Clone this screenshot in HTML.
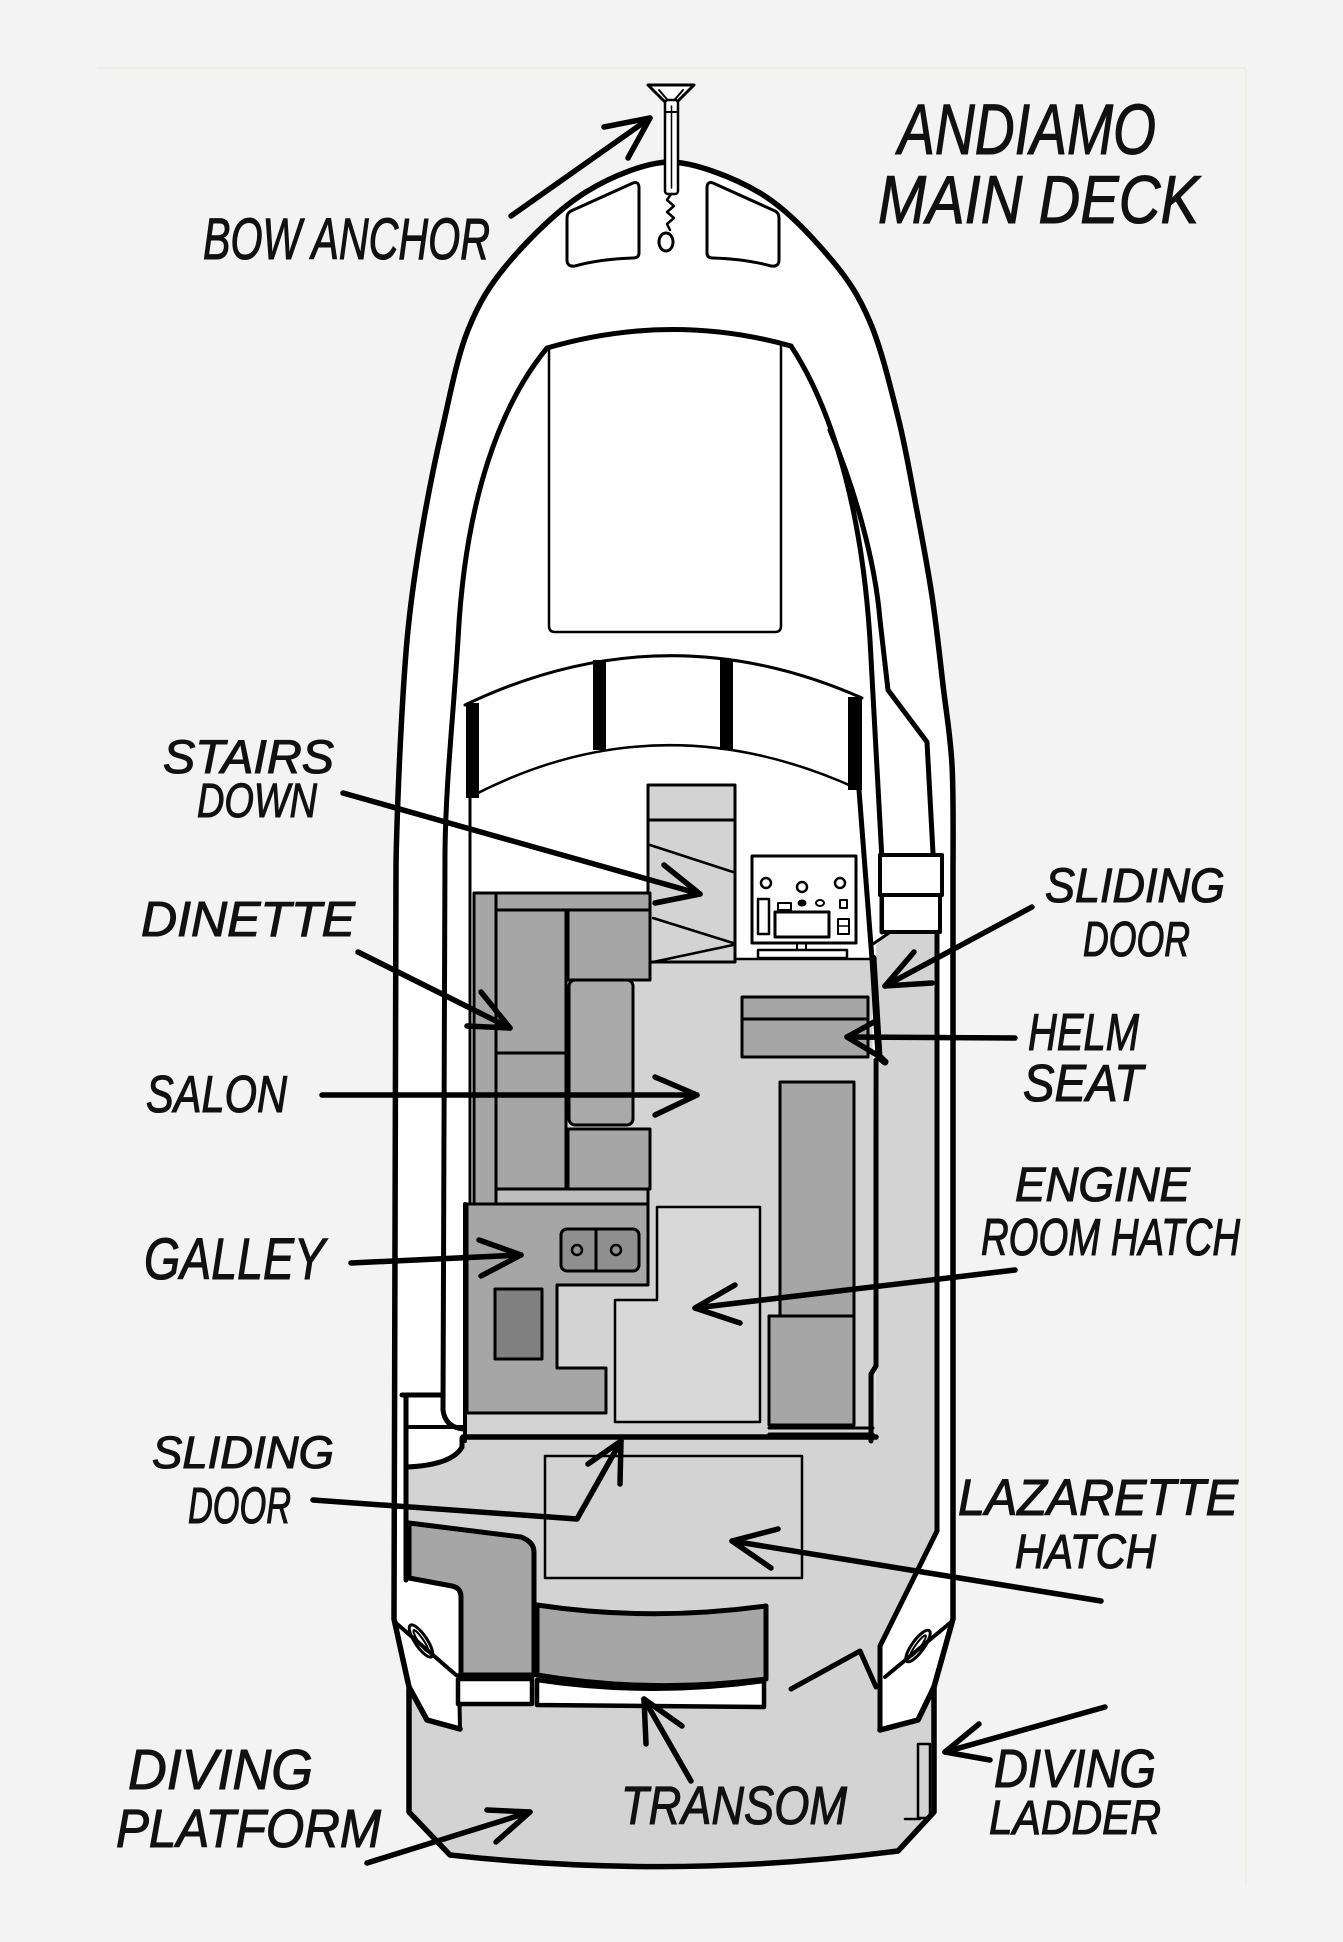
<!DOCTYPE html>
<html><head><meta charset="utf-8"><style>
html,body{margin:0;padding:0;background:#f3f3f3;}
svg{display:block;}
text{font-family:"Liberation Sans Narrow","Liberation Sans",sans-serif;font-weight:normal;font-style:italic;fill:#111;stroke:#111;stroke-width:1.1;}
</style></head><body>
<svg width="1343" height="1942" viewBox="0 0 1343 1942" xmlns="http://www.w3.org/2000/svg">
<rect width="1343" height="1942" fill="#f3f3f3"/>
<line x1="97" y1="68" x2="1246" y2="68" stroke="#e4f2de" stroke-width="2"/>
<line x1="1246" y1="68" x2="1246" y2="1885" stroke="#e9f2e5" stroke-width="2"/>

<!-- hull fill -->
<path d="M670,162 C647.7,162 612.7,175.5 586,192 C559.3,208.5 529.7,238 510,261 C490.3,284 479.3,301.8 468,330 C456.7,358.2 449.7,396.7 442,430 C434.3,463.3 427.7,496.7 422,530 C416.3,563.3 411.7,593.3 408,630 C404.3,666.7 402,710 400,750 C398,790 396,850 396,870 L394,1619 L409,1687 L409,1812 L450,1855 Q674,1880 898,1851 L934,1812 L934,1687 L953,1619 L953,870 C953,850 953.7,795.8 952,765 C950.3,734.2 946.3,713.2 943,685 C939.7,656.8 936.5,625.8 932,596 C927.5,566.2 921.7,535.8 916,506 C910.3,476.2 905.7,447.7 898,417 C890.3,386.3 881.3,348.5 870,322 C858.7,295.5 848.3,279.5 830,258 C811.7,236.5 786.7,209 760,193 C733.3,177 693,162 670,162 Z" fill="#fff"/>

<!-- cockpit / side deck / platform gray -->
<path d="M462,1440 L876,1440 L876,945 L889,933 L937,933 L937,1531 L880,1646 L880,1730 L918,1720 L934,1687 L934,1812 L898,1851 Q674,1880 450,1855 L409,1812 L409,1689 L427,1720 L461,1729 L461,1580 L407,1580 L407,1467 Q450,1465 462,1446 Z" fill="#d3d3d3"/>

<!-- cabin floor gray -->
<path d="M648,785 L735,785 L735,959 L872,959 L876,1440 L465,1440 L465,1204 L474,1204 L474,893 L648,893 Z" fill="#d3d3d3"/>

<g fill="none" stroke="#000" stroke-linejoin="round" stroke-linecap="round">
<!-- hull outline -->
<path d="M460,1729 L427,1720 L409,1687 L394,1619 L396,870 C396,850 398,790 400,750 C402,710 404.3,666.7 408,630 C411.7,593.3 416.3,563.3 422,530 C427.7,496.7 434.3,463.3 442,430 C449.7,396.7 456.7,358.2 468,330 C479.3,301.8 490.3,284 510,261 C529.7,238 559.3,208.5 586,192 C612.7,175.5 647.7,162 670,162 C693,162 733.3,177 760,193 C786.7,209 811.7,236.5 830,258 C848.3,279.5 858.7,295.5 870,322 C881.3,348.5 890.3,386.3 898,417 C905.7,447.7 910.3,476.2 916,506 C921.7,535.8 927.5,566.2 932,596 C936.5,625.8 939.7,656.8 943,685 C946.3,713.2 950.3,734.2 952,765 C953.7,795.8 953,850 953,870 L953,1619 L934,1687 L918,1720 L880,1730" stroke-width="5.5"/>
<!-- platform -->
<path d="M409,1689 L409,1812 L450,1855 Q674,1880 898,1851 L934,1812 L934,1687" stroke-width="5.5"/>
<!-- stern quarters -->
<path d="M396,1623 L456,1675" stroke-width="4"/>
<path d="M459,1675 L460,1729" stroke-width="4"/>
<path d="M950,1623 L885,1677" stroke-width="4"/>
<ellipse cx="421" cy="1641" rx="6" ry="19" transform="rotate(-34 421 1641)" stroke-width="3"/>
<ellipse cx="421" cy="1641" rx="2.5" ry="13" transform="rotate(-34 421 1641)" stroke-width="2"/>
<ellipse cx="918" cy="1646" rx="6" ry="19" transform="rotate(36 918 1646)" stroke-width="3"/>
<ellipse cx="918" cy="1646" rx="2.5" ry="13" transform="rotate(36 918 1646)" stroke-width="2"/>

<!-- bow hatches -->
<path d="M571,211 L633,183 Q639,181 639,188 L639,253 Q639,258 633,258 Q600,259 575,266 Q567,267 567,260 L567,218 Q567,213 571,211 Z" fill="#fff" stroke-width="3"/>
<path d="M775,211 L713,183 Q707,181 707,188 L707,253 Q707,258 713,258 Q746,259 771,266 Q779,267 779,260 L779,218 Q779,213 775,211 Z" fill="#fff" stroke-width="3"/>

<!-- anchor -->
<path d="M648,85 L694,85 L671,108 Z" fill="#fff" stroke-width="3"/>
<path d="M659,90 L671,104 L683,90" stroke-width="2"/>
<rect x="665" y="100" width="13" height="94" rx="3" fill="#fff" stroke-width="2.5"/>
<line x1="671.5" y1="106" x2="671.5" y2="188" stroke-width="1.5"/>
<line x1="665" y1="112" x2="678" y2="112" stroke-width="2"/>
<path d="M671,194 L667,200 L674,206 L667,212 L674,218 L667,224 L670,230" stroke-width="2.5"/>
<ellipse cx="666" cy="242" rx="7" ry="9" stroke-width="3"/>

<!-- foredeck hatch + cabin top arc -->
<path d="M549,348 L549,626 Q549,632 555,632 L775,632 Q781,632 781,626 L781,346" stroke-width="2.5"/>
<path d="M547,348 Q670,312 791,346" stroke-width="5"/>
<!-- inner gunwale left -->
<path d="M547,348 C500,405 465,500 458,640 C453,720 446,780 445,850 L443,1410 Q445,1427 463,1429" stroke-width="5"/>
<!-- right lines -->
<path d="M791,346 C820,390 860,480 870,640 L882,860 L882,932" stroke-width="5"/>
<path d="M830,430 C855,490 875,560 880,620 L888,690 L927,742 L933,853" stroke-width="5"/>
<path d="M937,932 L937,1531 L880,1646 L880,1730" stroke-width="5"/>
<rect x="880" y="855" width="62" height="40" fill="#fff" stroke-width="4"/>
<rect x="882" y="895" width="58" height="37" fill="#fff" stroke-width="4"/>
<path d="M873,944 L889,933" stroke-width="3"/>

<!-- windshield -->
<path d="M465,705 Q663,610 862,698" stroke-width="3"/>
<path d="M472,796 Q660,698 858,789" stroke-width="2.5"/>
</g>
<g fill="#000">
<rect x="466" y="703" width="13" height="95"/>
<rect x="593" y="660" width="13" height="90"/>
<rect x="720" y="660" width="13" height="90"/>
<rect x="848" y="697" width="14" height="93"/>
</g>

<g fill="none" stroke="#000" stroke-linejoin="round" stroke-linecap="round">
<!-- cabin walls -->
<path d="M470,798 L470,1204" stroke-width="3"/>
<path d="M859,790 L872,959" stroke-width="5"/>
<path d="M873,958 L879,1057 L885,1062" stroke-width="7"/>
<path d="M876,1060 L876,1366 L871,1374 L871,1441" stroke-width="5"/>
<path d="M465,1204 L465,1441" stroke-width="4"/>
<path d="M463,1437 L876,1437" stroke-width="5.5"/>
<!-- aft left step box -->
<path d="M402,1395 L443,1395" stroke-width="5"/>
<path d="M406,1395 L406,1580" stroke-width="5"/>
<path d="M406,1427 L463,1427" stroke-width="4"/>
<path d="M462,1438 L462,1447 Q452,1465 407,1467" stroke-width="5"/>

<!-- stairs -->
<rect x="648" y="785" width="87" height="177" fill="#d3d3d3" stroke-width="3"/>
<line x1="648" y1="820" x2="735" y2="820" stroke-width="3"/>
<line x1="650" y1="845" x2="733" y2="872" stroke-width="2.5"/>
<line x1="653" y1="918" x2="733" y2="943" stroke-width="2.5"/>
<line x1="653" y1="962" x2="733" y2="945" stroke-width="2.5"/>
<line x1="735" y1="959" x2="872" y2="959" stroke-width="2.5"/>

<!-- helm console -->
<rect x="752" y="856" width="104" height="87" fill="#fff" stroke-width="3"/>
<circle cx="766" cy="883" r="5" stroke-width="2.5"/>
<circle cx="802" cy="887" r="5" stroke-width="2.5"/>
<circle cx="840" cy="883" r="5" stroke-width="2.5"/>
<rect x="758" y="899" width="11" height="35" stroke-width="2.5"/>
<rect x="778" y="903" width="13" height="7" stroke-width="2"/>
<ellipse cx="802" cy="903" rx="4" ry="3" fill="#000" stroke-width="1"/>
<ellipse cx="820" cy="903" rx="4" ry="3" stroke-width="2"/>
<rect x="840" y="900" width="7" height="8" stroke-width="2"/>
<rect x="775" y="912" width="54" height="25" stroke-width="3"/>
<rect x="838" y="919" width="11" height="15" stroke-width="2"/>
<line x1="838" y1="926" x2="849" y2="926" stroke-width="1.5"/>
<path d="M797,943 L797,950 M806,943 L806,950" stroke-width="2"/>
<rect x="758" y="950" width="89" height="8" stroke-width="2.5"/>

<!-- dinette -->
<g fill="#a6a6a6" stroke-width="3">
<rect x="474" y="893" width="22" height="311"/>
<rect x="496" y="893" width="154" height="17"/>
<rect x="496" y="910" width="70" height="143"/>
<rect x="496" y="1053" width="70" height="136"/>
<rect x="568" y="910" width="82" height="70"/>
<rect x="568" y="1129" width="82" height="60"/>
<rect x="569" y="980" width="64" height="145" rx="6" fill="#a9a9a9"/>
</g>
<rect x="496" y="1189" width="152" height="15" fill="#bdbdbd" stroke-width="3"/>

<!-- galley -->
<path d="M467,1204 L648,1204 L648,1285 L557,1285 L557,1368 L606,1368 L606,1413 L467,1413 Z" fill="#a6a6a6" stroke-width="3"/>
<rect x="495" y="1289" width="47" height="70" fill="#808080" stroke-width="3"/>
<rect x="561" y="1229" width="78" height="42" rx="6" fill="#8f8f8f" stroke-width="3"/>
<line x1="596" y1="1229" x2="596" y2="1271" stroke-width="3"/>
<circle cx="577" cy="1250" r="5" stroke-width="2.5"/>
<circle cx="616" cy="1250" r="5" stroke-width="2.5"/>

<!-- engine hatch -->
<path d="M657,1207 L760,1207 L760,1422 L615,1422 L615,1300 L657,1300 Z" fill="#d8d8d8" stroke-width="2.5"/>

<!-- right furniture -->
<rect x="780" y="1082" width="74" height="234" fill="#a6a6a6" stroke-width="3"/>
<rect x="769" y="1316" width="85" height="109" fill="#a6a6a6" stroke-width="3"/>
<path d="M769,1428 L873,1428 M769,1434 L873,1434" stroke-width="3"/>
<rect x="742" y="997" width="126" height="60" fill="#a6a6a6" stroke-width="3"/>
<line x1="742" y1="1019" x2="868" y2="1019" stroke-width="3"/>

<!-- lazarette -->
<rect x="545" y="1456" width="257" height="122" fill="#d3d3d3" stroke-width="2.5"/>

<!-- left aft seat -->
<path d="M409,1523 L521,1537 Q534,1542 534,1552 L534,1675 L461,1675 L461,1597 Q461,1588 452,1586 L409,1578 Z" fill="#a6a6a6" stroke-width="5"/>
<!-- transom seat -->
<path d="M537,1605 Q650,1622 766,1606 L766,1679 Q650,1694 537,1675 Z" fill="#a6a6a6" stroke-width="5"/>
<path d="M537,1680 Q650,1697 764,1681 L764,1707 L537,1705 Z" fill="#fff" stroke-width="4.5"/>
<path d="M458,1679 L532,1679 L532,1704 L458,1704 Z" fill="#fff" stroke-width="4.5"/>
<!-- misc cockpit lines -->
<path d="M791,1689 L860,1651 L876,1687" stroke-width="5"/>
<rect x="918" y="1744" width="12" height="74" stroke-width="2.5"/>
<line x1="905" y1="1819" x2="920" y2="1819" stroke-width="2.5"/>
</g>

<!-- arrows -->
<g fill="none" stroke="#000" stroke-width="5.5" stroke-linecap="round" stroke-linejoin="round">
<path d="M511,216 L650,118"/><path d="M604,127 L650,118 L628,158"/>
<path d="M343,793 L700,894"/><path d="M664,865 L700,894 L655,903"/>
<path d="M358,952 L510,1028"/><path d="M481,992 L510,1028 L467,1026"/>
<path d="M322,1095 L697,1095"/><path d="M655,1077 L697,1095 L655,1115"/>
<path d="M351,1263 L521,1255"/><path d="M479,1240 L521,1255 L481,1276"/>
<path d="M1032,907 L885,986"/><path d="M914,952 L885,986 L932,983"/>
<path d="M1015,1038 L847,1037"/><path d="M874,1022 L847,1037 L882,1058"/>
<path d="M1015,1270 L695,1308"/><path d="M735,1285 L695,1308 L740,1323"/>
<path d="M1101,1601 L732,1541"/><path d="M778,1529 L732,1541 L771,1568"/>
<path d="M313,1500 L577,1519 L621,1441"/><path d="M588,1464 L621,1441 L620,1484"/>
<path d="M691,1781 L644,1699"/><path d="M646,1744 L644,1699 L682,1726"/>
<path d="M367,1863 L530,1812"/><path d="M487,1810 L530,1812 L496,1842"/>
<path d="M1105,1707 L945,1752"/><path d="M979,1724 L945,1752 L990,1760"/>
</g>

<!-- labels -->
<text x="898" y="154" font-size="71" textLength="258" lengthAdjust="spacingAndGlyphs">ANDIAMO</text>
<text x="878" y="223" font-size="68" textLength="321" lengthAdjust="spacingAndGlyphs">MAIN DECK</text>
<text x="203" y="259" font-size="58" textLength="287" lengthAdjust="spacingAndGlyphs">BOW ANCHOR</text>
<text x="163" y="773" font-size="47" textLength="171" lengthAdjust="spacingAndGlyphs">STAIRS</text>
<text x="197" y="817" font-size="48" textLength="120" lengthAdjust="spacingAndGlyphs">DOWN</text>
<text x="141" y="936" font-size="49" textLength="214" lengthAdjust="spacingAndGlyphs">DINETTE</text>
<text x="146" y="1112" font-size="52" textLength="141" lengthAdjust="spacingAndGlyphs">SALON</text>
<text x="144" y="1279" font-size="58" textLength="181" lengthAdjust="spacingAndGlyphs">GALLEY</text>
<text x="1045" y="902" font-size="48" textLength="180" lengthAdjust="spacingAndGlyphs">SLIDING</text>
<text x="1083" y="956" font-size="49" textLength="107" lengthAdjust="spacingAndGlyphs">DOOR</text>
<text x="1028" y="1050" font-size="52" textLength="111" lengthAdjust="spacingAndGlyphs">HELM</text>
<text x="1023" y="1101" font-size="52" textLength="120" lengthAdjust="spacingAndGlyphs">SEAT</text>
<text x="1015" y="1201" font-size="48" textLength="175" lengthAdjust="spacingAndGlyphs">ENGINE</text>
<text x="981" y="1255" font-size="52" textLength="259" lengthAdjust="spacingAndGlyphs">ROOM HATCH</text>
<text x="152" y="1468" font-size="45" textLength="182" lengthAdjust="spacingAndGlyphs">SLIDING</text>
<text x="188" y="1523" font-size="51" textLength="103" lengthAdjust="spacingAndGlyphs">DOOR</text>
<text x="958" y="1515" font-size="51" textLength="280" lengthAdjust="spacingAndGlyphs">LAZARETTE</text>
<text x="1015" y="1568" font-size="48" textLength="141" lengthAdjust="spacingAndGlyphs">HATCH</text>
<text x="128" y="1789" font-size="57" textLength="185" lengthAdjust="spacingAndGlyphs">DIVING</text>
<text x="116" y="1847" font-size="54" textLength="265" lengthAdjust="spacingAndGlyphs">PLATFORM</text>
<text x="621" y="1824" font-size="54" textLength="226" lengthAdjust="spacingAndGlyphs">TRANSOM</text>
<text x="994" y="1787" font-size="54" textLength="162" lengthAdjust="spacingAndGlyphs">DIVING</text>
<text x="989" y="1834" font-size="48" textLength="172" lengthAdjust="spacingAndGlyphs">LADDER</text>
</svg>
</body></html>
